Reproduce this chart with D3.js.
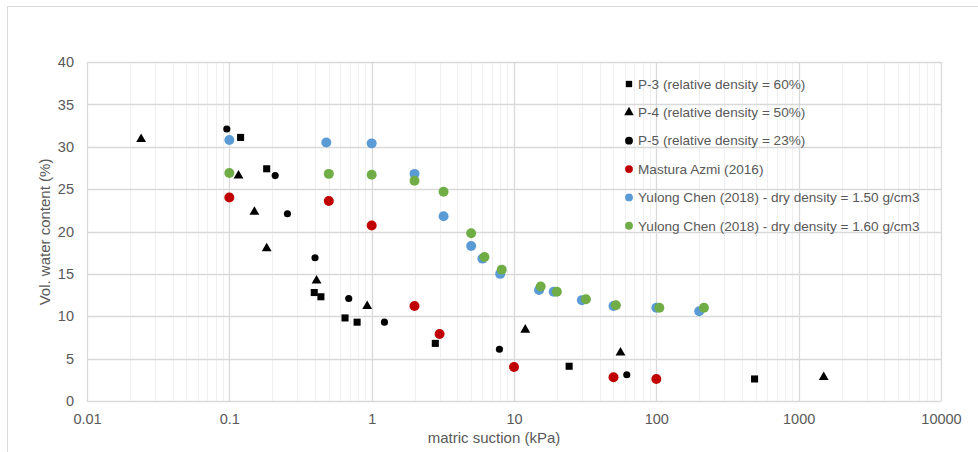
<!DOCTYPE html>
<html>
<head>
<meta charset="utf-8">
<script src="https://cdn.jsdelivr.net/npm/d3@7"></script>
<style>
	body { margin: 0; background: #fff; }
	text { font-family: "Liberation Sans", Arial, sans-serif; fill: #595959; }
</style>
</head>
<body>
<div class="swcc"></div>
<script>
// data: [suction kPa, vol. water content %]
const p3 = [[0.12, 31.1], [0.183, 27.4], [0.395, 12.8], [0.44, 12.3], [0.65, 9.8], [0.79, 9.3], [2.8, 6.8], [24.4, 4.1], [490, 2.6]];
const p4 = [[0.024, 30.9], [0.116, 26.6], [0.15, 22.3], [0.183, 18.0], [0.41, 14.2], [0.93, 11.2], [12, 8.4], [56, 5.7], [1500, 2.8]];
const p5 = [[0.096, 32.1], [0.21, 26.6], [0.256, 22.1], [0.40, 16.9], [0.69, 12.1], [1.23, 9.3], [7.9, 6.1], [62, 3.1]];
const azmi = [[0.1, 24.0], [0.5, 23.6], [1, 20.7], [2, 11.2], [3, 7.9], [10, 4.0], [50, 2.8], [100, 2.6]];
const chen150 = [[0.1, 30.8], [0.48, 30.5], [1, 30.4], [2, 26.8], [3.2, 21.8], [5, 18.3], [6, 16.8], [8, 15.0], [15, 13.1], [19, 12.9], [30, 11.9], [50, 11.2], [100, 11.0], [200, 10.6]];
const chen160 = [[0.1, 26.9], [0.5, 26.8], [1, 26.7], [2, 26.0], [3.2, 24.7], [5, 19.8], [6.2, 17.0], [8.2, 15.5], [15.4, 13.5], [20, 12.9], [32, 12.0], [52, 11.3], [105, 11.0], [216, 11.0]];

const seriesNames = [
	"P-3 (relative density = 60%)",
	"P-4 (relative density = 50%)",
	"P-5 (relative density = 23%)",
	"Mastura Azmi (2016)",
	"Yulong Chen (2018) - dry density = 1.50 g/cm3",
	"Yulong Chen (2018) - dry density = 1.60 g/cm3"
];
const xTicks = [0.01, 0.1, 1, 10, 100, 1000, 10000];
const yTicks = [0, 5, 10, 15, 20, 25, 30, 35, 40];

const series = [
	{ name: seriesNames[0], data: p3, shape: d3.symbolSquare, size: 50, color: "#000" },
	{ name: seriesNames[1], data: p4, shape: d3.symbolTriangle, size: 42, color: "#000" },
	{ name: seriesNames[2], data: p5, shape: d3.symbolCircle, size: 40, color: "#000" },
	{ name: seriesNames[3], data: azmi, shape: d3.symbolCircle, size: 78, color: "#C00000" },
	{ name: seriesNames[4], data: chen150, shape: d3.symbolCircle, size: 78, color: "#5B9BD5" },
	{ name: seriesNames[5], data: chen160, shape: d3.symbolCircle, size: 78, color: "#70AD47" }
];

const svg = d3.select(".swcc")
	.append("svg")
	.attr("width", 978)
	.attr("height", 452);

// chart border
svg.append("rect")
	.attr("x", 7.5).attr("y", 6.5)
	.attr("width", 1000).attr("height", 500)
	.attr("fill", "none")
	.attr("stroke", "#d9d9d9");

const plot = { left: 87, top: 62, right: 941, bottom: 401 };

const x = d3.scaleLog().domain([0.01, 10000]).range([plot.left, plot.right]);
const y = d3.scaleLinear().domain([0, 40]).range([plot.bottom, plot.top]);

// minor vertical gridlines
const minor = [];
for (let e = -2; e < 4; e++) {
	for (let m = 2; m <= 9; m++) minor.push(m * Math.pow(10, e));
}
svg.append("g")
	.selectAll("line")
		.data(minor).enter()
	.append("line")
		.attr("x1", (d) => Math.round(x(d)) + 0.5)
		.attr("x2", (d) => Math.round(x(d)) + 0.5)
		.attr("y1", plot.top)
		.attr("y2", plot.bottom)
		.attr("stroke", "#f0f0f0");

// major gridlines
svg.append("g")
	.selectAll("line")
		.data(yTicks).enter()
	.append("line")
		.attr("x1", plot.left)
		.attr("x2", plot.right)
		.attr("y1", (d) => Math.round(y(d)) + 0.5)
		.attr("y2", (d) => Math.round(y(d)) + 0.5)
		.attr("stroke", "#d9d9d9")
		.attr("stroke-width", 1.3);

svg.append("g")
	.selectAll("line")
		.data(xTicks).enter()
	.append("line")
		.attr("x1", (d) => Math.round(x(d)) + 0.5)
		.attr("x2", (d) => Math.round(x(d)) + 0.5)
		.attr("y1", plot.top)
		.attr("y2", plot.bottom)
		.attr("stroke", "#d9d9d9")
		.attr("stroke-width", 1.3);

// axes labels
const xAxis = svg.append("g")
	.attr("transform", `translate(0, ${plot.bottom})`)
	.call(d3.axisBottom(x).tickValues(xTicks).tickFormat((d) => String(d)).tickSize(0).tickPadding(13));
xAxis.select(".domain").remove();

const yAxis = svg.append("g")
	.attr("transform", `translate(${plot.left}, 0)`)
	.call(d3.axisLeft(y).tickValues(yTicks).tickSize(0).tickPadding(13));
yAxis.select(".domain").remove();

svg.selectAll(".tick text")
	.style("font-size", "14.5px")
	.style("fill", "#595959")
	.style("font-family", "'Liberation Sans', Arial, sans-serif");

svg.append("text")
	.attr("x", 494)
	.attr("y", 443)
	.attr("text-anchor", "middle")
	.style("font-size", "15px")
	.text("matric suction (kPa)");

svg.append("text")
	.attr("transform", "translate(50, 232) rotate(-90)")
	.attr("text-anchor", "middle")
	.style("font-size", "15px")
	.text("Vol. water content (%)");

// points
series.forEach((s) => {
	svg.append("g")
		.selectAll("path")
			.data(s.data).enter()
		.append("path")
			.attr("d", d3.symbol().type(s.shape).size(s.size))
			.attr("transform", (d) => `translate(${x(d[0])}, ${y(d[1])})`)
			.attr("fill", s.color);
});

// legend
const legend = svg.append("g")
	.attr("transform", "translate(629, 84)");

const rows = legend.selectAll("g")
		.data(series).enter()
	.append("g")
		.attr("transform", (d, i) => `translate(0, ${i * 28.35})`);

rows.append("path")
	.attr("d", (d) => d3.symbol().type(d.shape).size(d.shape === d3.symbolCircle ? 48 : 40)())
	.attr("fill", (d) => d.color);

rows.append("text")
	.attr("x", 9)
	.attr("dy", "0.35em")
	.style("font-size", "13.6px")
	.text((d) => d.name);
</script>
</body>
</html>
